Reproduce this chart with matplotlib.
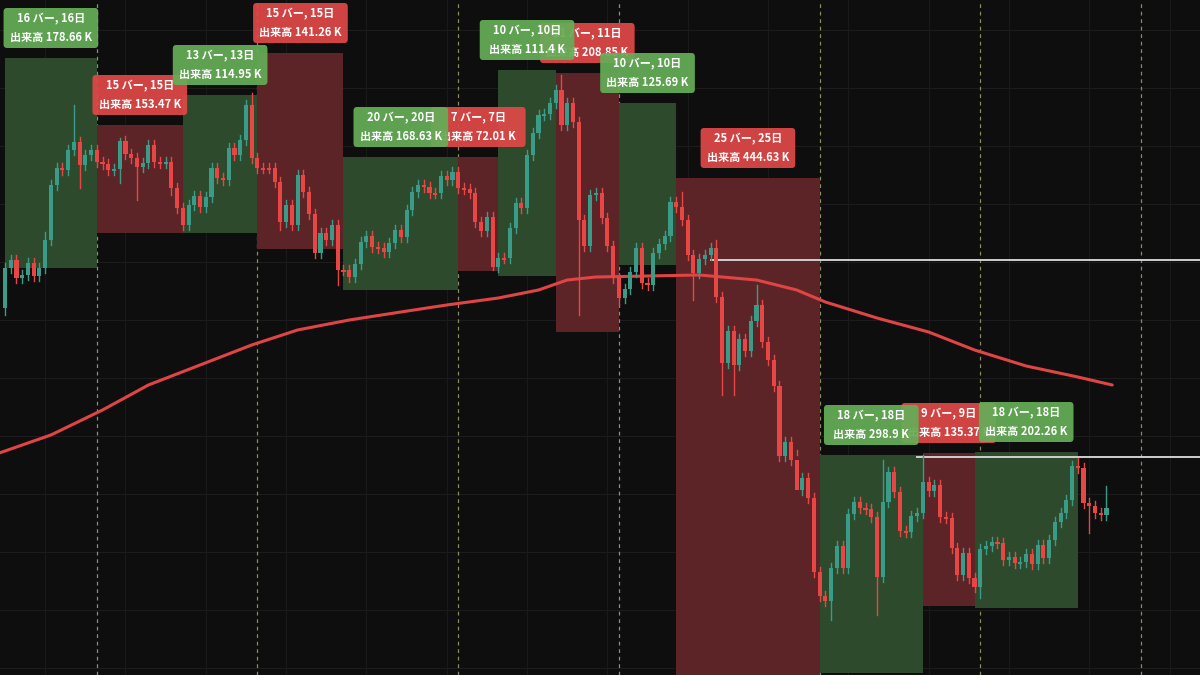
import matplotlib
matplotlib.use("Agg")
import matplotlib.pyplot as plt
from matplotlib.patches import Rectangle, FancyBboxPatch

plt.rcParams['font.family'] = ['Noto Sans CJK JP', 'DejaVu Sans']

# price levels (chart units, larger = lower on screen)
opens0 = 308
closes = [268,260,278,275,263,276,268,240,185,168,170,150,142,165,155,150,162,164,170,169,
          141,154,158,167,163,145,162,163,162,188,208,225,205,196,207,197,168,178,180,148,
          155,140,105,158,168,168,168,182,222,205,225,175,192,214,253,233,240,225,270,270,
          277,264,242,236,247,248,252,243,230,237,210,192,185,187,193,193,176,180,172,188,
          189,193,222,231,217,267,258,258,228,203,208,155,133,115,114,103,90,125,103,122,
          220,246,195,193,218,246,278,298,289,272,248,283,285,253,244,236,202,207,220,255,
          273,259,255,248,297,363,331,365,339,351,321,305,342,360,386,456,442,460,490,478,
          498,572,596,601,568,546,568,514,502,508,509,517,577,502,472,492,531,532,516,513,
          482,491,485,517,518,548,575,553,578,587,549,546,542,543,560,557,563,562,554,564,
          545,558,540,522,513,500,466,468,503,506,513,515,508]
wick_default = 5
long_highs = {12:105, 20:138, 43:93, 97:75, 118:192, 124:240, 131:285, 153:460, 160:455, 187:458, 192:486, 7:232, 91:150}
long_lows = {0:315, 13:188, 20:183, 23:200, 48:230, 58:285, 85:270, 100:315, 120:300, 125:395,
             127:395, 138:450, 144:620, 152:615, 170:598, 189:533, 29:195, 107:305}

# boxes: start bar, end bar, top, bottom, kind, bars, volume
box_start = [0,16,31,44,59,79,86,96,107,117,142,160,169]
box_end   = [16,31,44,59,79,86,96,107,117,142,160,169,187]
box_top   = [58,125,95,53,157,157,70,73,103,178,455,453,452]
box_bot   = [268,233,233,249,290,271,276,332,265,675,673,606,608]
box_kind  = ['g','r','g','r','g','r','g','r','g','r','g','r','g']
box_bars  = [16,15,13,15,20,7,10,11,10,25,18,9,18]
box_vol   = ['178.66','153.47','114.95','141.26','168.63','72.01','111.4','208.85','125.69','444.63','298.9','135.37','202.26']

ma_x = [-1,8,17,25,34,43,51,60,69,77,86,93,98,103,112,121,131,138,143,152,161,169,178,187,193]
ma_y = [453,435,410,385,365,345,330,320,312,305,298,290,280,277,276,275,280,290,302,318,332,350,366,377,385]

hlines = [(123, 209, 260), (159, 209, 457)]
sessions = [16,44,79,107,142,170,198]
session_col = ['#8a8a8a','#8a8a60','#8a8a60','#8a8a8a','#8a8a60','#8a8a60','#8a8a60']

BG = '#0e0e0e'
UP = '#3a9c88'
DN = '#e84545'
fig = plt.figure(figsize=(12, 6.75), dpi=100, facecolor=BG)
ax = fig.add_axes([0, 0, 1, 1], facecolor=BG)
ax.set_xlim(-0.87, 208.3)
ax.set_ylim(675, 0)
ax.axis('off')

for yy in range(30, 675, 58):
    ax.axhline(yy, color='#1c1c1c', lw=0.8, zorder=0)
for xx in range(7, 209, 14):
    ax.axvline(xx, color='#1a1a1a', lw=0.8, zorder=0)
for s, c in zip(sessions, session_col):
    ax.axvline(s, color=c, lw=0.9, ls=(0, (3, 3)), zorder=1)

for a, b, t, bt, k in zip(box_start, box_end, box_top, box_bot, box_kind):
    fc = '#2e4a2c' if k == 'g' else '#5c2426'
    ax.add_patch(Rectangle((a, t), b - a, bt - t, facecolor=fc, edgecolor='none', zorder=2))

ax.plot(ma_x, ma_y, color='#e04444', lw=2.2, zorder=5, solid_capstyle='round')
for a, b, y in hlines:
    ax.plot([a, b], [y, y], color='#cfcfcf', lw=1.4, zorder=4)

prev = opens0
for i, c in enumerate(closes):
    o = prev
    up = c < o
    col = UP if up else DN
    hi = long_highs.get(i, min(o, c) - wick_default)
    lo = long_lows.get(i, max(o, c) + wick_default)
    ax.plot([i, i], [hi, lo], color=col, lw=1, zorder=6)
    h = max(abs(c - o), 1.5)
    ax.add_patch(Rectangle((i - 0.36, min(o, c)), 0.72, h, facecolor=col, edgecolor='none', zorder=7))
    prev = c

order = [i for i in range(len(box_kind)) if box_kind[i] == 'r'] + [i for i in range(len(box_kind)) if box_kind[i] == 'g']
for z, i in enumerate(order):
    cx = (box_start[i] + box_end[i]) / 2
    bottom = box_top[i] - 10
    w = 16.5
    fc = '#e04848' if box_kind[i] == 'r' else '#64ad57'
    ax.add_patch(FancyBboxPatch((cx - w / 2, bottom - 40), w, 40,
                                boxstyle='round,pad=0,rounding_size=0.6', mutation_aspect=6,
                                facecolor=fc, edgecolor='none', alpha=0.93, zorder=10 + 2 * z))
    for dy, s in ((29, f"{box_bars[i]} バー, {box_bars[i]}日"), (11, f"出来高 {box_vol[i]} K")):
        ax.text(cx, bottom - dy, s, color='white', fontsize=8, ha='center', va='center',
                zorder=11 + 2 * z, fontweight='bold')

fig.savefig('out.png', dpi=100, facecolor=BG)
